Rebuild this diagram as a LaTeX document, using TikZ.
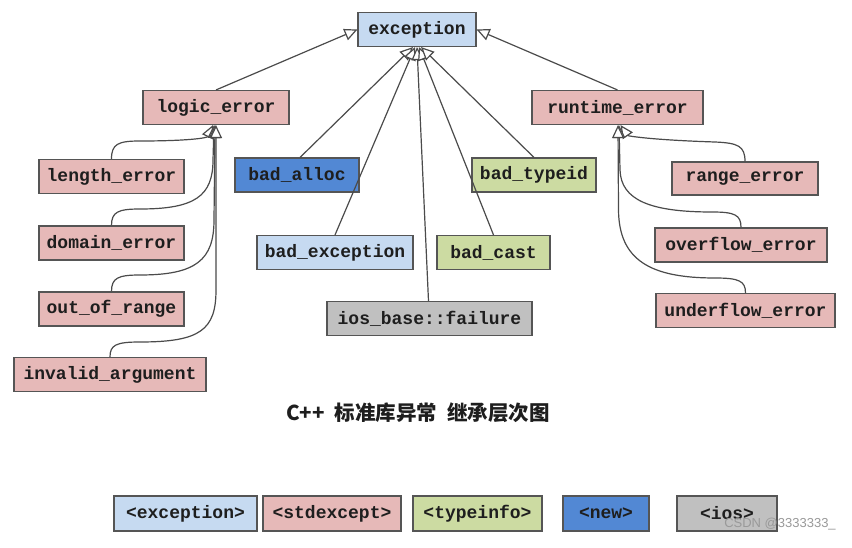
\documentclass[tikz,border=0pt]{standalone}
\usepackage{fontspec}
\setmonofont{Liberation Mono}
\newfontfamily\cjk{Noto Sans CJK SC}
\newfontfamily\wmfont{Liberation Sans}
\usetikzlibrary{arrows.meta}
\definecolor{cExc}{RGB}{198,218,241}
\definecolor{cStd}{RGB}{230,185,184}
\definecolor{cTyp}{RGB}{204,219,162}
\definecolor{cNew}{RGB}{82,136,212}
\definecolor{cIos}{RGB}{192,192,192}
\definecolor{cBorder}{RGB}{85,85,85}
\definecolor{cLine}{RGB}{75,75,75}
\definecolor{cText}{RGB}{30,30,30}
\begin{document}
\begin{tikzpicture}[x=1pt,y=-1pt,
  box/.style={draw=cBorder, line width=1.1pt, inner sep=0pt, minimum height=34pt,
    font=\ttfamily\bfseries\fontsize{18}{20}\selectfont, text=cText},
  inh/.style={draw=cLine, line width=1.2pt, -{Triangle[length=13pt,width=12pt,fill=white]}},
]
\useasboundingbox[fill=white] (0,0) rectangle (852,548);

% nodes
\node[box, fill=cExc, minimum width=118pt] (ex)  at (417,29.5)   {exception};
\node[box, fill=cStd, minimum width=146pt] (lg)  at (216,107.5)  {logic\_error};
\node[box, fill=cStd, minimum width=171pt] (rt)  at (617.5,107.5){runtime\_error};
\node[box, fill=cStd, minimum width=145pt] (le)  at (111.5,176.5){length\_error};
\node[box, fill=cNew, minimum width=124pt] (ba)  at (297,175)    {bad\_alloc};
\node[box, fill=cTyp, minimum width=124pt] (bt)  at (534,175)    {bad\_typeid};
\node[box, fill=cStd, minimum width=146pt, minimum height=33pt] (re) at (745,178.5) {range\_error};
\node[box, fill=cStd, minimum width=145pt] (de)  at (111.5,243)  {domain\_error};
\node[box, fill=cExc, minimum width=156pt] (be)  at (335,252.5)  {bad\_exception};
\node[box, fill=cTyp, minimum width=113pt] (bc)  at (493.5,252.5){bad\_cast};
\node[box, fill=cStd, minimum width=172pt] (of)  at (741,245)    {overflow\_error};
\node[box, fill=cStd, minimum width=145pt] (oor) at (111.5,309)  {out\_of\_range};
\node[box, fill=cIos, minimum width=205pt] (ios) at (429.5,318.5){ios\_base::failure};
\node[box, fill=cStd, minimum width=179pt] (uf)  at (745.5,310.5){underflow\_error};
\node[box, fill=cStd, minimum width=192pt] (ia)  at (110,374.5)  {invalid\_argument};

% title
\node[font=\cjk\bfseries\fontsize{20.5}{24}\selectfont, text=cText] (title) at (418,413)
  {C++\hspace{10pt}标准库异常\hspace{10pt}继承层次图};

% legend
\node[box, fill=cExc, minimum width=143pt, minimum height=35pt] (l1) at (185.5,513.5) {<exception>};
\node[box, fill=cStd, minimum width=138pt, minimum height=35pt] (l2) at (332,513.5)   {<stdexcept>};
\node[box, fill=cTyp, minimum width=129pt, minimum height=35pt] (l3) at (477.5,513.5) {<typeinfo>};
\node[box, fill=cNew, minimum width=86pt,  minimum height=35pt] (l4) at (606,513.5)   {<new>};
\node[box, fill=cIos, minimum width=100pt, minimum height=35pt] (l5) at (727,513.5)   {<ios>};

% watermark
\node[font=\wmfont\fontsize{13}{15}\selectfont, text=black!40] (wm) at (780,524) {CSDN @3333333\_};

% edges to exception
\draw[inh] (lg.north) -- (ex.west);
\draw[inh] (rt.north) -- (ex.east);
\draw[inh] ([xshift=3pt]ba.north) -- ([xshift=-4pt]ex.south);
\draw[inh] (be.north) -- ([xshift=-2pt]ex.south);
\draw[inh] ([xshift=-1pt]ios.north) -- (ex.south);
\draw[inh] (bc.north) -- ([xshift=2pt]ex.south);
\draw[inh] (bt.north) -- ([xshift=4pt]ex.south);

% logic_error children
\draw[inh] (le.north) .. controls (111.5,144) and (118,141) .. (140,141)
  .. controls (188,141) and (207,138) .. ([xshift=-3pt]lg.south);
\draw[inh] (de.north) .. controls (111.5,212) and (118,209) .. (140,209)
  .. controls (195,209) and (213,196) .. (213,160) -- ([xshift=-2pt]lg.south);
\draw[inh] (oor.north) .. controls (111.5,278) and (118,275) .. (140,275)
  .. controls (196,275) and (214,260) .. (214,220) -- ([xshift=-1pt]lg.south);
\draw[inh] (ia.north) .. controls (110,345) and (116,342) .. (140,342)
  .. controls (200,342) and (216,330) .. (216,290) -- (lg.south);

% runtime_error children
\draw[inh] (re.north) .. controls (745,146) and (738,143) .. (715,142)
  .. controls (652,140) and (628,136) .. ([xshift=3pt]rt.south);
\draw[inh] (of.north) .. controls (741,215) and (735,212) .. (712,212)
  .. controls (650,212) and (621,200) .. (620,170) -- ([xshift=1.5pt]rt.south);
\draw[inh] (uf.north) .. controls (745.5,281) and (739,278) .. (715,278)
  .. controls (650,278) and (619,260) .. (618.5,210) -- ([xshift=0.5pt]rt.south);
\end{tikzpicture}
\end{document}
